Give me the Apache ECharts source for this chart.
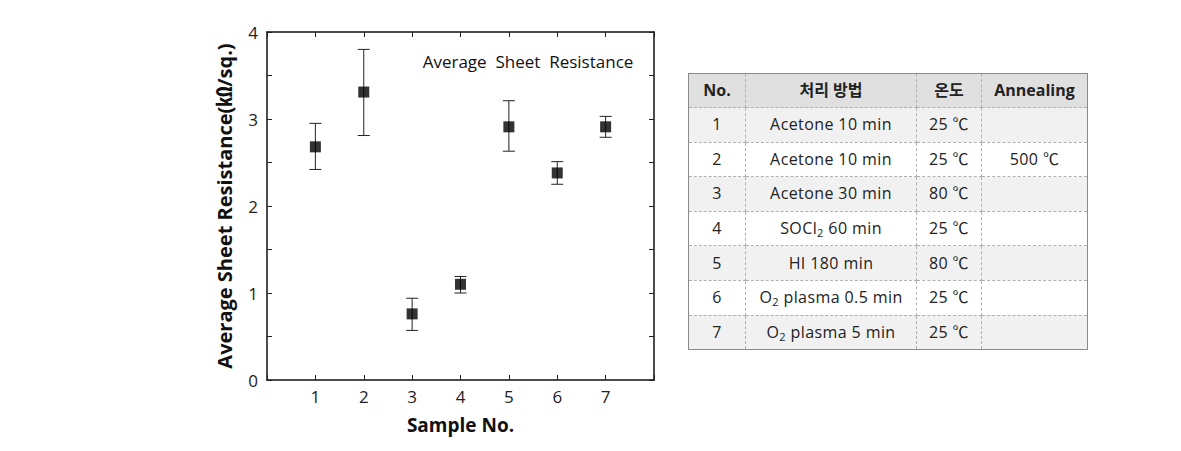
<!DOCTYPE html>
<html>
<head>
<meta charset="utf-8">
<script src="https://cdn.jsdelivr.net/npm/echarts@6/dist/echarts.min.js"></script>
<style>
html,body{margin:0;padding:0;background:#fff;}
#chart{position:absolute;left:0;top:0;width:1181px;height:451px;}
#tbl{position:absolute;left:688px;top:73px;border-collapse:collapse;font-family:"Open Sans","Noto Sans CJK KR",sans-serif;font-size:16px;letter-spacing:0.4px;color:#222;border:1px solid #8a8a8a;table-layout:fixed;}
#tbl td,#tbl th{border:1px dashed #b0b0b0;text-align:center;padding:0;height:33.6px;line-height:33px;white-space:nowrap;}
#tbl th{background:#e0e0e0;font-weight:bold;font-size:16px;letter-spacing:0;height:32px;}
#tbl tr.g td{background:#f1f1f1;}
#tbl sub{font-size:11px;line-height:0;vertical-align:-3px;}
</style>
</head>
<body>
<div id="chart"></div>
<table id="tbl"></table>
<script>
// ---- data ----
const sampleNo = [1, 2, 3, 4, 5, 6, 7];
const meanValues = [2.68, 3.31, 0.76, 1.10, 2.91, 2.38, 2.91];
const errLow = [2.42, 2.81, 0.57, 1.00, 2.63, 2.25, 2.79];
const errHigh = [2.95, 3.80, 0.94, 1.19, 3.21, 2.51, 3.03];
const yTickLabels = ['0', '1', '2', '3', '4'];
const chartTitle = 'Average  Sheet  Resistance';
const xName = 'Sample No.';
const yName = 'Average Sheet Resistance(㏀/sq.)';

const tableHeader = ['No.', '처리 방법', '온도', 'Annealing'];
const tableNo = ['1', '2', '3', '4', '5', '6', '7'];
const tableMethod = ['Acetone 10 min', 'Acetone 10 min', 'Acetone 30 min', 'SOCl<sub>2</sub> 60 min', 'HI 180 min', 'O<sub>2</sub> plasma 0.5 min', 'O<sub>2</sub> plasma 5 min'];
const tableTemp = ['25 ℃', '25 ℃', '80 ℃', '25 ℃', '80 ℃', '25 ℃', '25 ℃'];
const tableAnneal = ['', '500 ℃', '', '', '', '', ''];

// ---- table ----
const colW = [56, 170, 64, 105];
let html = '<tr>' + tableHeader.map((h, i) => `<th style="width:${colW[i]}px">${h}</th>`).join('') + '</tr>';
for (let i = 0; i < tableNo.length; i++) {
  html += `<tr class="${i % 2 === 0 ? 'g' : ''}"><td>${tableNo[i]}</td><td>${tableMethod[i]}</td><td>${tableTemp[i]}</td><td>${tableAnneal[i]}</td></tr>`;
}
document.getElementById('tbl').innerHTML = html;

// ---- chart ----
const chart = echarts.init(document.getElementById('chart'), null, {renderer: 'svg'});
const font = '"Open Sans","Noto Sans CJK KR",sans-serif';
const axisLine = {show: true, onZero: false, lineStyle: {color: '#111', width: 1.5}};
const tick = {show: true, inside: true, length: 5, lineStyle: {color: '#222', width: 1}};
const errData = sampleNo.map((x, i) => [x, errLow[i], errHigh[i]]);

chart.setOption({
  animation: false,
  grid: {left: 267, right: 527, top: 32, bottom: 71},
  title: {
    text: chartTitle, left: 523, top: 48, textAlign: 'center',
    textStyle: {fontFamily: font, fontSize: 17, fontWeight: 'normal', color: '#111'}
  },
  xAxis: [{
    type: 'value', min: 0, max: 8, interval: 1, position: 'bottom',
    axisLine: axisLine, axisTick: tick, splitLine: {show: false},
    axisLabel: {margin: 8, fontFamily: font, fontSize: 17, color: '#222',
      formatter: v => (v >= 1 && v <= 7) ? String(v) : ''},
    name: xName, nameLocation: 'middle', nameGap: 35,
    nameTextStyle: {fontFamily: font, fontSize: 19, fontWeight: 'bold', color: '#111'}
  }, {
    type: 'value', min: 0, max: 8, interval: 1, position: 'top',
    axisLine: axisLine, axisTick: tick, axisLabel: {show: false}, splitLine: {show: false}
  }],
  yAxis: [{
    type: 'value', min: 0, max: 4, interval: 0.5, position: 'left',
    axisLine: axisLine, axisTick: tick, splitLine: {show: false},
    axisLabel: {margin: 9, fontFamily: font, fontSize: 17, color: '#222',
      formatter: v => Number.isInteger(v) ? yTickLabels[v] : ''},
    name: yName, nameLocation: 'middle', nameGap: 33,
    nameTextStyle: {fontFamily: font, fontSize: 20, fontWeight: 'bold', color: '#111'}
  }, {
    type: 'value', min: 0, max: 4, interval: 0.5, position: 'right',
    axisLine: axisLine, axisTick: tick, axisLabel: {show: false}, splitLine: {show: false}
  }],
  series: [{
    type: 'custom',
    xAxisIndex: 0, yAxisIndex: 0,
    data: errData,
    renderItem: function (params, api) {
      const x = api.value(0);
      const lo = api.coord([x, api.value(1)]);
      const hi = api.coord([x, api.value(2)]);
      const hw = 6;
      const st = {stroke: '#222', lineWidth: 1};
      return {
        type: 'group',
        children: [
          {type: 'line', shape: {x1: lo[0], y1: lo[1], x2: hi[0], y2: hi[1]}, style: st},
          {type: 'line', shape: {x1: lo[0] - hw, y1: lo[1], x2: lo[0] + hw, y2: lo[1]}, style: st},
          {type: 'line', shape: {x1: hi[0] - hw, y1: hi[1], x2: hi[0] + hw, y2: hi[1]}, style: st}
        ]
      };
    },
    z: 2
  }, {
    type: 'scatter',
    xAxisIndex: 0, yAxisIndex: 0,
    symbol: 'rect', symbolSize: 11,
    itemStyle: {color: '#000'},
    data: sampleNo.map((x, i) => [x, meanValues[i]]),
    z: 3
  }]
});
</script>
</body>
</html>
